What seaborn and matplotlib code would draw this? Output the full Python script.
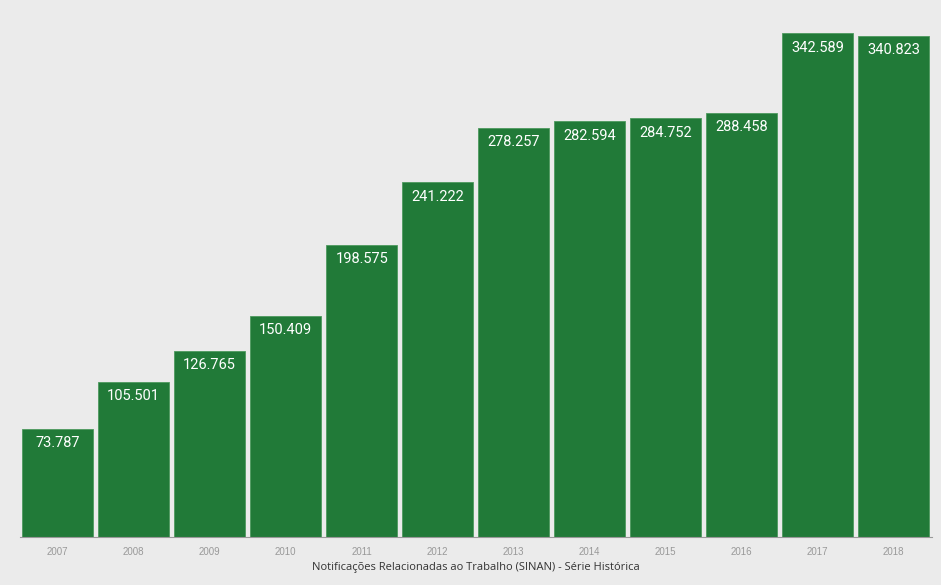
import matplotlib
matplotlib.use("Agg")
import matplotlib.pyplot as plt
import seaborn as sns
import pandas as pd

years = ["2007", "2008", "2009", "2010", "2011", "2012",
         "2013", "2014", "2015", "2016", "2017", "2018"]
notifications = [73787, 105501, 126765, 150409, 198575, 241222,
                 278257, 282594, 284752, 288458, 342589, 340823]
value_labels = ["73.787", "105.501", "126.765", "150.409", "198.575", "241.222",
                "278.257", "282.594", "284.752", "288.458", "342.589", "340.823"]

df = pd.DataFrame({"ano": years, "notificacoes": notifications})

sns.set_theme(style="white")
plt.rcParams["font.family"] = ["Roboto", "DejaVu Sans"]

fig = plt.figure(figsize=(9.41, 5.85), dpi=100, facecolor="#ebebeb")
ax = fig.add_axes([0.021, 0.082, 0.969, 0.905])
ax.set_facecolor("#ebebeb")

sns.barplot(data=df, x="ano", y="notificacoes", color="#217a38",
            saturation=1, width=0.93, edgecolor="#4d9a5e", linewidth=0.6, ax=ax)

for i, (v, lab) in enumerate(zip(notifications, value_labels)):
    ax.text(i, v - 5000, lab, ha="center", va="top", color="white", fontsize=10.5)

ax.set_ylim(0, 360000)
ax.set_xlim(-0.5, 11.5)
ax.set_yticks([])
ax.set_ylabel("")
ax.set_xlabel("Notificações Relacionadas ao Trabalho (SINAN) - Série Histórica",
              fontsize=8, color="#333333", labelpad=4,
              family=["Open Sans", "DejaVu Sans"], fontweight="medium")
ax.tick_params(axis="x", labelsize=7, colors="#999999", length=3, width=0.6, pad=4)
for lbl in ax.get_xticklabels():
    lbl.set_family(["Liberation Sans", "DejaVu Sans"])
for s in ["top", "right", "left"]:
    ax.spines[s].set_visible(False)
ax.spines["bottom"].set_color("#999999")
ax.spines["bottom"].set_linewidth(0.8)

fig.savefig("out.png", dpi=100, facecolor=fig.get_facecolor())
